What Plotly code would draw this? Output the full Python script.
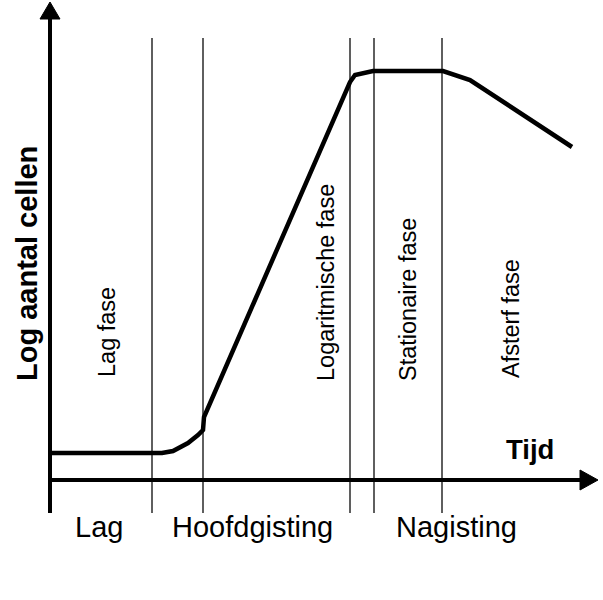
import plotly.graph_objects as go

# Growth curve (time in arbitrary units, log cell count in arbitrary units)
curve_t = [0, 112, 123, 138, 148, 153, 154, 300, 305, 323, 393, 420, 522]
curve_logn = [27, 27, 29, 37, 45, 50, 63, 398, 405, 409, 409, 400, 333]

# Phase boundaries (time)
phase_bounds = [102, 153, 300, 324, 392]
line_top, line_bottom = 442, -33

# Phase labels (rotated) and their positions
phase_labels = ["Lag fase", "Logaritmische fase", "Stationaire fase", "Afsterf fase"]
phase_label_t = [57, 276, 358, 461]
phase_label_y = [148, 197, 180, 161]

# Stage labels below the axis
stage_labels = ["Lag", "Hoofdgisting", "Nagisting"]
stage_label_t = [49, 202, 406]
stage_label_y = -47

# Axis extents
x_axis_end = 548
y_axis_end = 478

FONT = "Liberation Sans, Arial, sans-serif"

fig = go.Figure()

# vertical phase lines
for b in phase_bounds:
    fig.add_shape(type="line", x0=b, x1=b, y0=line_bottom, y1=line_top,
                  xref="x", yref="y", line=dict(color="#2a2a2a", width=1.5), layer="below")

# axes
fig.add_trace(go.Scatter(x=[0, 0], y=[line_bottom, y_axis_end - 14], mode="lines",
                         line=dict(color="black", width=4), hoverinfo="skip"))
fig.add_trace(go.Scatter(x=[0, x_axis_end - 16], y=[0, 0], mode="lines",
                         line=dict(color="black", width=4), hoverinfo="skip"))
# arrowheads
fig.add_trace(go.Scatter(x=[0, -10, 10, 0], y=[y_axis_end, y_axis_end - 17, y_axis_end - 17, y_axis_end],
                         mode="lines", fill="toself", fillcolor="black",
                         line=dict(color="black", width=1), hoverinfo="skip"))
fig.add_trace(go.Scatter(x=[x_axis_end, x_axis_end - 18, x_axis_end - 18, x_axis_end], y=[0, 10, -10, 0],
                         mode="lines", fill="toself", fillcolor="black",
                         line=dict(color="black", width=1), hoverinfo="skip"))

# growth curve
fig.add_trace(go.Scatter(x=curve_t, y=curve_logn, mode="lines",
                         line=dict(color="black", width=4.5), hoverinfo="skip"))

annotations = []
for lab, t, y in zip(phase_labels, phase_label_t, phase_label_y):
    annotations.append(dict(x=t, y=y, xref="x", yref="y", text=lab, showarrow=False,
                            textangle=-90, font=dict(family=FONT, size=23.5, color="black")))
for lab, t in zip(stage_labels, stage_label_t):
    annotations.append(dict(x=t, y=stage_label_y, xref="x", yref="y", text=lab, showarrow=False,
                            font=dict(family=FONT, size=29, color="black")))
annotations.append(dict(x=480, y=31, xref="x", yref="y", text="<b>Tijd</b>", showarrow=False,
                        font=dict(family=FONT, size=27.5, color="black")))
annotations.append(dict(x=-23, y=216, xref="x", yref="y", text="<b>Log aantal cellen</b>", showarrow=False,
                        textangle=-90, font=dict(family=FONT, size=29, color="black")))

fig.update_layout(
    width=603, height=600,
    margin=dict(l=0, r=0, t=0, b=0),
    paper_bgcolor="white", plot_bgcolor="white",
    showlegend=False,
    xaxis=dict(range=[-50, 553], visible=False, fixedrange=True),
    yaxis=dict(range=[-120, 480], visible=False, fixedrange=True),
    annotations=annotations,
)

fig.write_html("out.html")
